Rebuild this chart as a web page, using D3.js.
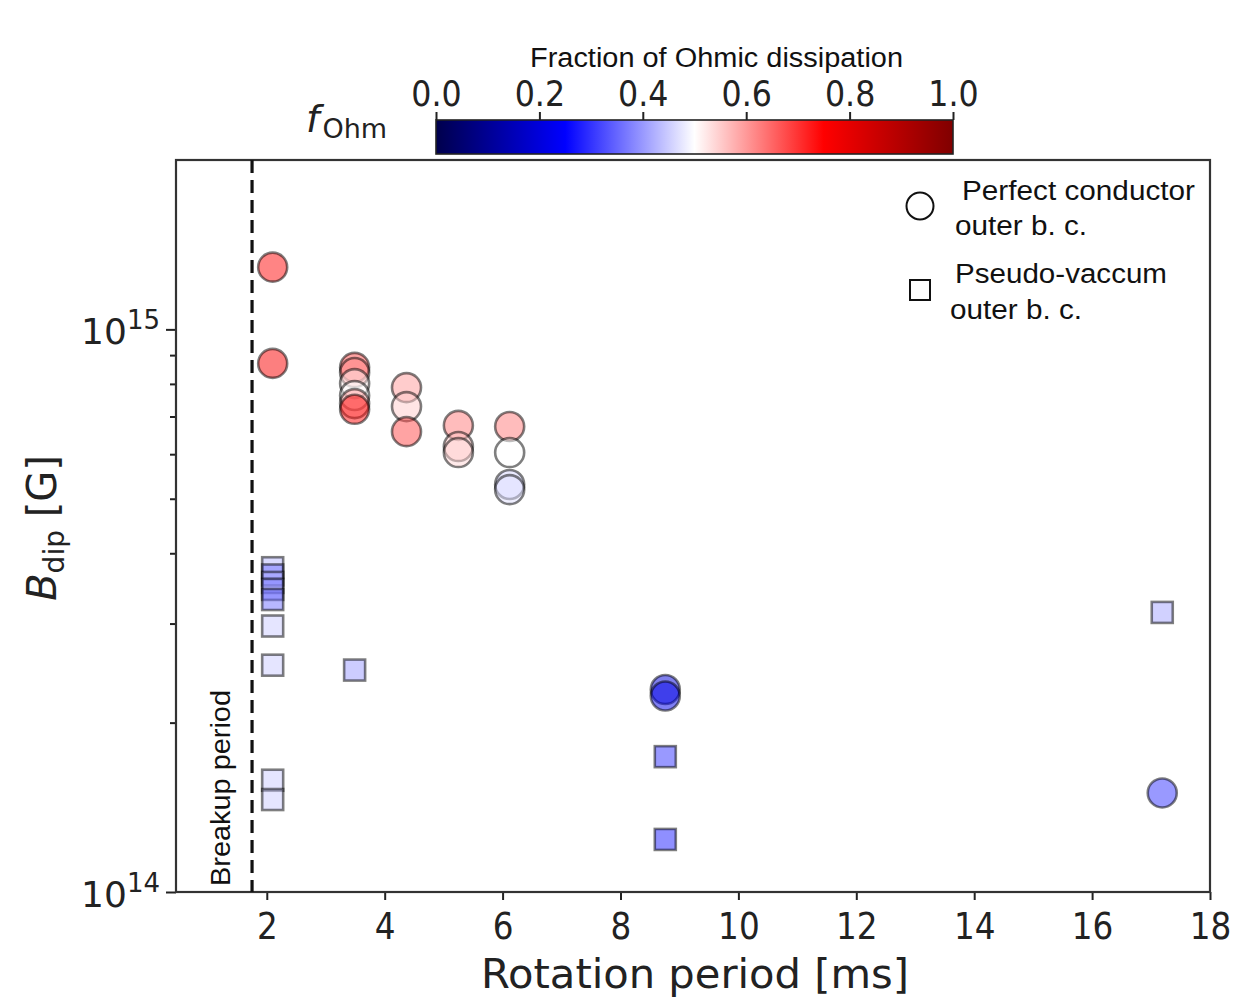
<!DOCTYPE html>
<html><head><meta charset="utf-8">
<script src="https://cdn.jsdelivr.net/npm/d3@7"></script>
<style>
html,body{margin:0;padding:0;background:#fff;}
svg{display:block;}
</style>
</head><body>
<svg id="chart" width="1238" height="1001"></svg>
<script>
// ---- data ----
const circleP = [2.10, 2.10, 3.49, 3.49, 3.49, 3.49, 3.49, 3.49, 4.37, 4.37, 4.37, 5.25, 5.25, 5.25, 6.12, 6.12, 6.12, 6.12, 8.76, 8.76, 17.19];
const circleB = [1.29e15, 8.70e14, 8.56e14, 8.38e14, 8.01e14, 7.63e14, 7.38e14, 7.21e14, 7.88e14, 7.29e14, 6.58e14, 6.75e14, 6.19e14, 6.04e14, 6.72e14, 6.04e14, 5.30e14, 5.19e14, 2.29e14, 2.23e14, 1.50e14];
const circleF = [0.74, 0.76, 0.68, 0.62, 0.52, 0.50, 0.60, 0.74, 0.60, 0.55, 0.68, 0.63, 0.56, 0.54, 0.63, 0.50, 0.46, 0.47, 0.20, 0.22, 0.30];
const squareP = [2.10, 2.10, 2.10, 2.10, 2.10, 2.10, 2.10, 2.10, 2.10, 3.49, 8.76, 8.76, 17.19];
const squareB = [3.77e14, 3.66e14, 3.55e14, 3.45e14, 3.31e14, 2.97e14, 2.53e14, 1.58e14, 1.46e14, 2.48e14, 1.74e14, 1.24e14, 3.14e14];
const squareF = [0.43, 0.36, 0.42, 0.37, 0.36, 0.45, 0.45, 0.45, 0.45, 0.40, 0.30, 0.28, 0.41];
const breakupPeriod = 1.75;
const xTicks = [2, 4, 6, 8, 10, 12, 14, 16, 18];
const yMajor = [1e14, 1e15];
const yMinor = [2e14, 3e14, 4e14, 5e14, 6e14, 7e14, 8e14, 9e14];
const cbTicks = [0.0, 0.2, 0.4, 0.6, 0.8, 1.0];
const seismicStops = [0, 0.25, 0.5, 0.75, 1];
const seismicColors = ["#00004c", "#0000ff", "#ffffff", "#ff0000", "#800000"];
const legendLabels = [["Perfect conductor", "outer b. c."], ["Pseudo-vaccum", "outer b. c."]];

// ---- layout ----
const L = 176, R = 1210, T = 160, B = 892;
const svg = d3.select("#chart");
const x = d3.scaleLinear().domain([0.46, 18]).range([L, R]);
const y = d3.scaleLog().domain([1e14, 2e15]).range([B, T]);
const cmap = d3.scaleLinear().domain(seismicStops).range(seismicColors).interpolate(d3.interpolateRgb);
const FONT = "'DejaVu Sans', sans-serif";
const HFONT = "'Liberation Sans', Arial, sans-serif";

function fitText(sel, len) { sel.attr("textLength", len).attr("lengthAdjust", "spacingAndGlyphs"); return sel; }

// clip
svg.append("defs").append("clipPath").attr("id", "clip")
  .append("rect").attr("x", L).attr("y", T).attr("width", R - L).attr("height", B - T);

// x axis
const xAxis = svg.append("g").attr("transform", `translate(0,${B})`)
  .call(d3.axisBottom(x).tickValues(xTicks).tickSize(8).tickPadding(12).tickFormat(d3.format("d")));
xAxis.select(".domain").remove();
xAxis.selectAll(".tick line").attr("stroke", "#222").attr("stroke-width", 2);
xAxis.selectAll(".tick text").attr("font-family", FONT).attr("font-size", 38).attr("fill", "#222")
  .attr("dy", "0.71em")
  .attr("transform", "scale(0.86,1)");

// y axis
const yAxis = svg.append("g").attr("transform", `translate(${L},0)`)
  .call(d3.axisLeft(y).tickValues(yMajor.concat(yMinor)).tickSize(10).tickFormat(""));
yAxis.select(".domain").remove();
yAxis.selectAll(".tick line").attr("stroke", "#222").attr("stroke-width", 2)
  .attr("x2", d => yMajor.includes(d) ? -10 : -6);
yAxis.selectAll(".tick text").remove();
yAxis.selectAll(".tick").filter(d => yMajor.includes(d)).each(function(d){
  const t = d3.select(this).append("text").attr("x", -16).attr("y", 14).attr("text-anchor", "end")
    .attr("font-family", FONT).attr("fill", "#222");
  t.append("tspan").attr("font-size", 36).text("10");
  t.append("tspan").attr("font-size", 26).attr("dy", -15).text(String(Math.round(Math.log10(d))));
});

// frame
svg.append("rect").attr("x", L).attr("y", T).attr("width", R - L).attr("height", B - T)
  .attr("fill", "none").attr("stroke", "#333").attr("stroke-width", 2.2);

// breakup dashed line
svg.append("line").attr("x1", x(breakupPeriod)).attr("x2", x(breakupPeriod))
  .attr("y1", T).attr("y2", B).attr("stroke", "#111").attr("stroke-width", 3.2)
  .attr("stroke-dasharray", "13,7");
fitText(svg.append("text").attr("transform", `translate(${x(breakupPeriod) - 22},${B - 6}) rotate(-90)`)
  .attr("font-family", HFONT).attr("font-size", 27).attr("fill", "#111").text("Breakup period"), 196);

// markers
const g = svg.append("g").attr("clip-path", "url(#clip)");
const sq = 21;
g.selectAll("rect.sq").data(squareP.map((p, i) => ({p, b: squareB[i], f: squareF[i]})))
  .join("rect").attr("class", "sq")
  .attr("x", d => x(d.p) - sq / 2).attr("y", d => y(d.b) - sq / 2)
  .attr("width", sq).attr("height", sq)
  .attr("fill", d => cmap(d.f)).attr("fill-opacity", 0.5)
  .attr("stroke", "#000").attr("stroke-opacity", 0.5).attr("stroke-width", 2.6);
g.selectAll("circle.pc").data(circleP.map((p, i) => ({p, b: circleB[i], f: circleF[i]})))
  .join("circle").attr("class", "pc")
  .attr("cx", d => x(d.p)).attr("cy", d => y(d.b)).attr("r", 14.5)
  .attr("fill", d => cmap(d.f)).attr("fill-opacity", 0.5)
  .attr("stroke", "#000").attr("stroke-opacity", 0.5).attr("stroke-width", 2.6);

// legend
svg.append("circle").attr("cx", 920).attr("cy", 206).attr("r", 13.5)
  .attr("fill", "none").attr("stroke", "#111").attr("stroke-width", 2);
svg.append("rect").attr("x", 910).attr("y", 280).attr("width", 20).attr("height", 20)
  .attr("fill", "none").attr("stroke", "#111").attr("stroke-width", 2);
const legPos = [[[962, 200, 233], [955, 235, 132]], [[955, 283, 212], [950, 319, 132]]];
legendLabels.forEach((lines, i) => lines.forEach((s, j) => {
  const [lx, ly, lw] = legPos[i][j];
  fitText(svg.append("text").attr("x", lx).attr("y", ly).attr("font-family", HFONT)
    .attr("font-size", 27).attr("fill", "#111").text(s), lw);
}));

// axis titles
fitText(svg.append("text").attr("x", 481).attr("y", 988).attr("font-family", FONT)
  .attr("font-size", 40).attr("fill", "#222").text("Rotation period [ms]"), 428);
const yl = svg.append("text").attr("transform", "translate(56,528) rotate(-90)").attr("text-anchor", "middle")
  .attr("font-family", FONT).attr("fill", "#222");
yl.append("tspan").attr("font-size", 40).attr("font-style", "italic").text("B");
yl.append("tspan").attr("font-size", 28).attr("dy", 8).text("dip");
yl.append("tspan").attr("font-size", 40).attr("dy", -8).text(" [G]");

// colorbar
const cbL = 436, cbR = 953, cbT = 120, cbB = 154;
const cbx = d3.scaleLinear().domain([0, 1]).range([cbL, cbR]);
const grad = svg.select("defs").append("linearGradient").attr("id", "seis")
  .attr("x1", "0%").attr("x2", "100%").attr("y1", "0%").attr("y2", "0%");
seismicStops.forEach((s, i) => grad.append("stop").attr("offset", (s * 100) + "%").attr("stop-color", seismicColors[i]));
svg.append("rect").attr("x", cbL).attr("y", cbT).attr("width", cbR - cbL).attr("height", cbB - cbT)
  .attr("fill", "url(#seis)").attr("stroke", "#222").attr("stroke-width", 1.6);
const cbAxis = svg.append("g").attr("transform", `translate(0,${cbT})`)
  .call(d3.axisTop(cbx).tickValues(cbTicks).tickSize(8).tickPadding(6).tickFormat(d3.format(".1f")));
cbAxis.select(".domain").remove();
cbAxis.selectAll(".tick line").attr("stroke", "#222").attr("stroke-width", 2);
cbAxis.selectAll(".tick text").attr("font-family", FONT).attr("font-size", 36).attr("fill", "#222")
  .attr("transform", "scale(0.88,1)");
fitText(svg.append("text").attr("x", 530).attr("y", 67).attr("font-family", HFONT)
  .attr("font-size", 27).attr("fill", "#111").text("Fraction of Ohmic dissipation"), 373);
const fl = svg.append("text").attr("x", 306).attr("y", 132).attr("font-family", FONT).attr("fill", "#222");
fl.append("tspan").attr("font-size", 38).attr("font-style", "italic").text("f");
fl.append("tspan").attr("font-size", 27).attr("dy", 6).attr("dx", 3).text("Ohm");
</script>
</body></html>
